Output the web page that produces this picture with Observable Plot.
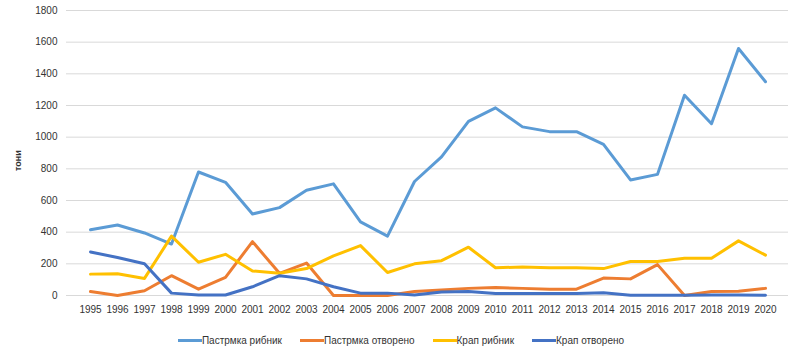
<!DOCTYPE html>
<html><head><meta charset="utf-8">
<script src="https://cdn.jsdelivr.net/npm/d3@7"></script>
<script src="https://cdn.jsdelivr.net/npm/@observablehq/plot@0.6"></script>
<style>
body{margin:0;background:#fff;font-family:"Liberation Sans",Arial,sans-serif;}
#legend{display:flex;justify-content:center;gap:18px;height:30px;align-items:center;font-size:10px;color:#333;padding-left:2px;}
.item{display:flex;align-items:center;}
.sw{width:24px;height:3px;}
</style></head><body><div id="chart"></div><div id="legend"></div>
<script>
const years = ["1995","1996","1997","1998","1999","2000","2001","2002","2003","2004","2005","2006","2007","2008","2009","2010","2011","2012","2013","2014","2015","2016","2017","2018","2019","2020"];
const seriesNames = ["Пастрмка рибник","Пастрмка отворено","Крап рибник","Крап отворено"];
const seriesColors = ["#5B9BD5","#ED7D31","#FFC000","#4472C4"];
const pastrmkaRibnik = [415,445,395,325,780,715,515,555,665,705,465,375,720,875,1100,1185,1065,1035,1035,955,730,765,1265,1085,1560,1350];
const pastrmkaOtvoreno = [25,0,30,125,40,115,340,140,205,0,0,0,25,35,45,50,45,40,40,110,105,195,0,25,27,45];
const krapRibnik = [135,138,108,375,210,260,155,140,170,250,315,145,200,220,305,175,180,175,175,170,215,215,235,235,345,255];
const krapOtvoreno = [275,240,200,15,3,3,55,125,105,55,15,15,3,22,25,12,12,12,12,18,2,2,2,3,3,2];
const yTicks = [0,200,400,600,800,1000,1200,1400,1600,1800];
const yLabel = "тони";

const allSeries = [pastrmkaRibnik, pastrmkaOtvoreno, krapRibnik, krapOtvoreno];
const data = [];
allSeries.forEach((vals, si) => vals.forEach((v, i) => data.push({year: years[i], value: v, series: seriesNames[si]})));

const chart = Plot.plot({
  width: 800,
  height: 325,
  marginTop: 10,
  marginBottom: 30,
  marginLeft: 66,
  marginRight: 12,
  style: {fontFamily: '"Liberation Sans", Arial, sans-serif', fontSize: "10px", color: "#333", background: "#fff"},
  x: {type: "point", domain: years, padding: 0.5, label: null},
  y: {domain: [0, 1800], ticks: yTicks, label: null},
  color: {domain: seriesNames, range: seriesColors},
  marks: [
    Plot.gridY(yTicks, {stroke: "#d9d9d9", strokeOpacity: 1, strokeWidth: 1}),
    Plot.axisY(yTicks, {tickSize: 0, tickPadding: 9, fontSize: 10, fill: "#333", tickFormat: d => String(d)}),
    Plot.axisX({tickSize: 0, tickPadding: 10, fontSize: 10, fill: "#333"}),
    Plot.line(data, {x: "year", y: "value", z: "series", stroke: "series", strokeWidth: 3, strokeLinejoin: "round", strokeLinecap: "round"}),
    Plot.text([yLabel], {frameAnchor: "left", dx: -48, dy: 18, rotate: -90, fontSize: 9, fontWeight: "bold", fill: "#333"})
  ]
});
document.getElementById("chart").appendChild(chart);

const legend = document.getElementById("legend");
seriesNames.forEach((n, i) => {
  const it = document.createElement("div"); it.className = "item";
  const sw = document.createElement("div"); sw.className = "sw"; sw.style.background = seriesColors[i];
  const tx = document.createElement("span"); tx.textContent = n;
  it.appendChild(sw); it.appendChild(tx); legend.appendChild(it);
});
</script></body></html>
